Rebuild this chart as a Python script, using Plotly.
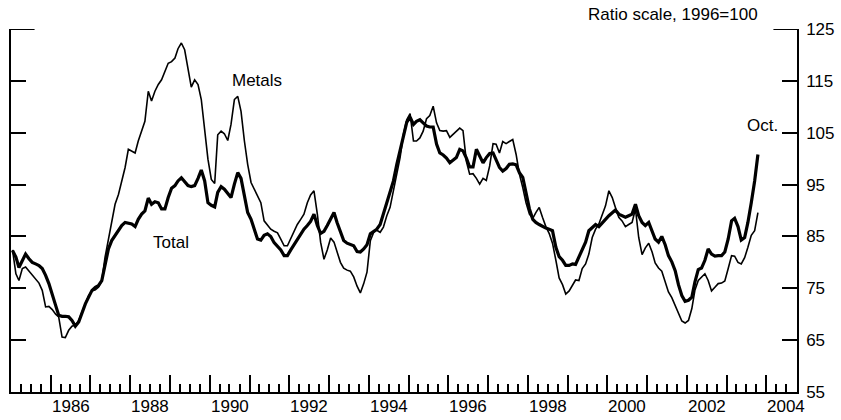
import pandas as pd
import plotly.graph_objects as go

# Monthly index values, Jan 1985 - Oct 2003 (ratio scale, 1996=100)
start_month = "1985-01-01"
end_month = "2003-10-01"

total = [
    82.3, 81.0, 79.0, 80.5, 81.6, 80.7, 80.0, 79.7, 79.4, 78.8, 77.5, 75.9,
    74.0, 71.7, 69.8, 69.6, 69.6, 69.5, 68.8, 67.7, 68.5, 70.4, 72.0, 73.3,
    74.6, 75.2, 75.5, 76.5, 79.7, 82.6, 84.2, 85.1, 86.1, 87.1, 87.7, 87.5,
    87.4, 86.9, 88.3, 89.3, 89.9, 92.4, 91.2, 91.7, 91.5, 90.3, 90.3, 92.5,
    94.3, 94.8, 95.7, 96.3, 95.6, 94.8, 94.6, 94.8, 96.2, 97.8, 95.7, 91.5,
    91.0, 90.7, 93.5, 94.6, 94.1, 93.3, 92.5, 95.1, 97.3, 96.2, 93.1, 89.6,
    88.3, 86.1, 84.5, 84.3, 85.2, 85.5, 85.0, 83.8, 83.0, 82.4, 81.3, 81.3,
    82.4, 83.5, 84.5, 85.5, 86.4, 87.1, 87.9, 89.3, 87.1, 85.6, 86.0, 87.1,
    88.3, 89.6, 87.7, 86.0, 84.2, 83.7, 83.5, 83.2, 82.1, 82.0, 82.6, 83.4,
    85.5, 86.0, 86.4, 87.3, 89.3, 91.2, 93.3, 95.7, 98.9, 101.5, 104.7, 107.0,
    108.0, 106.6, 107.2, 107.5, 106.9, 106.3, 106.1, 106.1, 102.8, 101.1, 100.7, 100.1,
    99.2, 99.7, 100.2, 101.8, 101.5, 100.1, 98.4, 98.4, 101.8, 100.5, 99.2, 100.2,
    101.0, 101.1, 99.9, 98.3, 97.6, 98.1, 98.9, 99.0, 98.8, 97.3, 96.4, 93.1,
    90.3, 88.3, 87.7, 87.3, 86.9, 86.6, 86.4, 86.1, 82.9, 81.1, 80.4, 79.4,
    79.4, 79.7, 79.6, 81.0, 82.6, 83.9, 86.1, 86.8, 87.3, 86.9, 87.7, 88.3,
    89.0, 89.6, 90.1, 89.3, 89.0, 88.7, 89.0, 89.3, 91.2, 89.0, 87.7, 87.1,
    87.7, 85.8, 84.5, 83.9, 85.0, 83.4, 81.3, 80.1, 78.4, 75.7, 73.6, 72.5,
    72.7, 73.3, 76.2, 78.6, 78.9, 80.4, 82.6, 81.6, 81.2, 81.3, 81.3, 82.0,
    84.5, 88.0, 88.5, 86.9, 84.3, 84.8, 87.7, 91.5, 95.7, 100.8,
]

metals = [
    82.4, 77.8, 76.5, 78.8, 79.1, 78.3, 77.5, 76.6, 76.0, 74.6, 71.4, 71.5,
    70.9, 70.0, 69.5, 65.6, 65.5, 66.9, 67.7, 67.9, 68.8, 70.4, 72.0, 73.6,
    74.5, 74.7, 75.2, 76.5, 81.0, 84.2, 88.0, 91.2, 93.1, 95.7, 98.3, 101.8,
    101.5, 101.1, 103.4, 105.3, 107.2, 113.0, 111.1, 113.0, 114.3, 115.2, 116.8, 118.4,
    118.7, 119.4, 121.2, 122.3, 121.0, 117.5, 113.8, 115.2, 114.3, 111.4, 105.6, 99.9,
    96.0, 95.2, 104.6, 105.3, 104.8, 103.5, 106.6, 111.4, 112.0, 109.1, 103.4, 98.9,
    95.4, 94.1, 93.1, 91.5, 88.0, 87.1, 86.4, 86.0, 85.7, 84.5, 83.2, 83.2,
    84.7, 86.1, 87.3, 88.3, 89.3, 91.5, 93.0, 93.8, 89.3, 83.9, 80.6, 82.4,
    84.7, 83.9, 81.9, 80.0, 78.9, 78.5, 78.3, 77.2, 75.4, 74.1, 75.9, 78.1,
    84.2, 85.8, 86.2, 85.8, 86.8, 89.0, 90.6, 93.8, 97.0, 100.2, 104.7, 107.5,
    108.7, 103.4, 103.4, 104.0, 105.3, 107.7, 108.3, 110.1, 106.9, 105.4, 105.3, 105.4,
    104.1, 104.7, 105.3, 105.9, 105.4, 99.5, 97.0, 97.1, 96.2, 95.1, 96.2, 95.8,
    98.6, 102.9, 102.8, 101.1, 103.3, 102.9, 103.3, 103.7, 100.8, 97.0, 94.4, 91.5,
    89.3, 88.5, 89.6, 90.6, 88.7, 86.9, 85.6, 83.7, 80.4, 77.0, 75.7, 73.9,
    74.5, 75.6, 76.6, 76.5, 78.8, 79.7, 81.6, 84.8, 86.4, 87.4, 89.0, 90.9,
    93.8, 92.5, 90.6, 88.7, 88.0, 86.9, 87.3, 87.7, 90.3, 84.8, 81.5, 82.8,
    83.7, 82.0, 79.9, 78.9, 78.3, 76.2, 74.3, 73.2, 71.7, 70.0, 68.7, 68.3,
    68.8, 71.1, 74.6, 76.5, 77.2, 77.8, 76.5, 74.5, 75.2, 75.9, 76.0, 76.4,
    78.8, 81.3, 81.2, 80.0, 79.7, 80.9, 82.9, 85.2, 86.1, 89.6,
]

label_years = [1986, 1988, 1990, 1992, 1994, 1996, 1998, 2000, 2002, 2004]
y_ticks = [55, 65, 75, 85, 95, 105, 115, 125]

# plot each month at mid-month
months = pd.date_range(start_month, end_month, freq="MS") + pd.Timedelta(days=14)

FONT = "Liberation Sans, Arial, sans-serif"

fig = go.Figure()

fig.add_trace(go.Scatter(
    x=months, y=metals, mode="lines", name="Metals",
    line=dict(color="black", width=1.6),
))
fig.add_trace(go.Scatter(
    x=months, y=total, mode="lines", name="Total",
    line=dict(color="black", width=3.2),
))

x_range = ["1985-01-01", "2004-10-08"]

fig.update_layout(
    width=841, height=420,
    margin=dict(l=11, r=44, t=29, b=28, autoexpand=False),
    paper_bgcolor="white", plot_bgcolor="white",
    showlegend=False,
    font=dict(family=FONT, size=17, color="black"),
    xaxis=dict(
        type="date", range=x_range, automargin=False,
        tick0="1985-01-01", dtick="M12",
        ticks="inside", ticklen=17, tickwidth=2, tickcolor="black",
        showticklabels=False, showgrid=False, zeroline=False,
        showline=True, linecolor="black", linewidth=2,
        minor=dict(dtick="M3", tick0="1985-01-01", ticks="inside",
                   ticklen=8, tickwidth=2, tickcolor="black", showgrid=False),
    ),
    yaxis=dict(
        range=[55, 125], side="right", automargin=False,
        tickmode="array", tickvals=y_ticks,
        ticks="inside", ticklen=15, tickwidth=2, tickcolor="black",
        mirror="ticks", showline=True, linecolor="black", linewidth=1.5,
        showgrid=False, zeroline=False,
        ticklabelstandoff=4,
        tickfont=dict(family=FONT, size=17, color="black"),
    ),
)

# year labels sit in the middle of each year, between the year ticks
for yr in label_years:
    fig.add_annotation(text=str(yr), x=f"{yr}-07-02", xref="x",
                       y=-0.0386, yref="paper", xanchor="center", yanchor="middle",
                       showarrow=False, font=dict(size=17))

# longer ticks at the top of both vertical axes
fig.add_shape(type="line", xref="paper", yref="y", x0=0, x1=0.03, y0=125, y1=125,
              line=dict(color="black", width=2))
fig.add_shape(type="line", xref="paper", yref="y", x0=0.97, x1=1, y0=125, y1=125,
              line=dict(color="black", width=2))

fig.add_annotation(text="Ratio scale, 1996=100", xref="paper", yref="paper",
                   x=0.953, y=1.0386, xanchor="right", yanchor="middle",
                   showarrow=False, font=dict(size=17))
fig.add_annotation(text="Metals", xref="paper", yref="paper",
                   x=0.313, y=0.8595, xanchor="center", yanchor="middle",
                   showarrow=False, font=dict(size=17))
fig.add_annotation(text="Total", xref="paper", yref="paper",
                   x=0.2036, y=0.413, xanchor="center", yanchor="middle",
                   showarrow=False, font=dict(size=17))
fig.add_annotation(text="Oct.", xref="paper", yref="paper",
                   x=0.9555, y=0.7355, xanchor="center", yanchor="middle",
                   showarrow=False, font=dict(size=17))

# drop the default page margin so the figure fills the window exactly
fig.write_html("out.html", config={"displayModeBar": False},
               post_script="document.body.style.margin='0';")
